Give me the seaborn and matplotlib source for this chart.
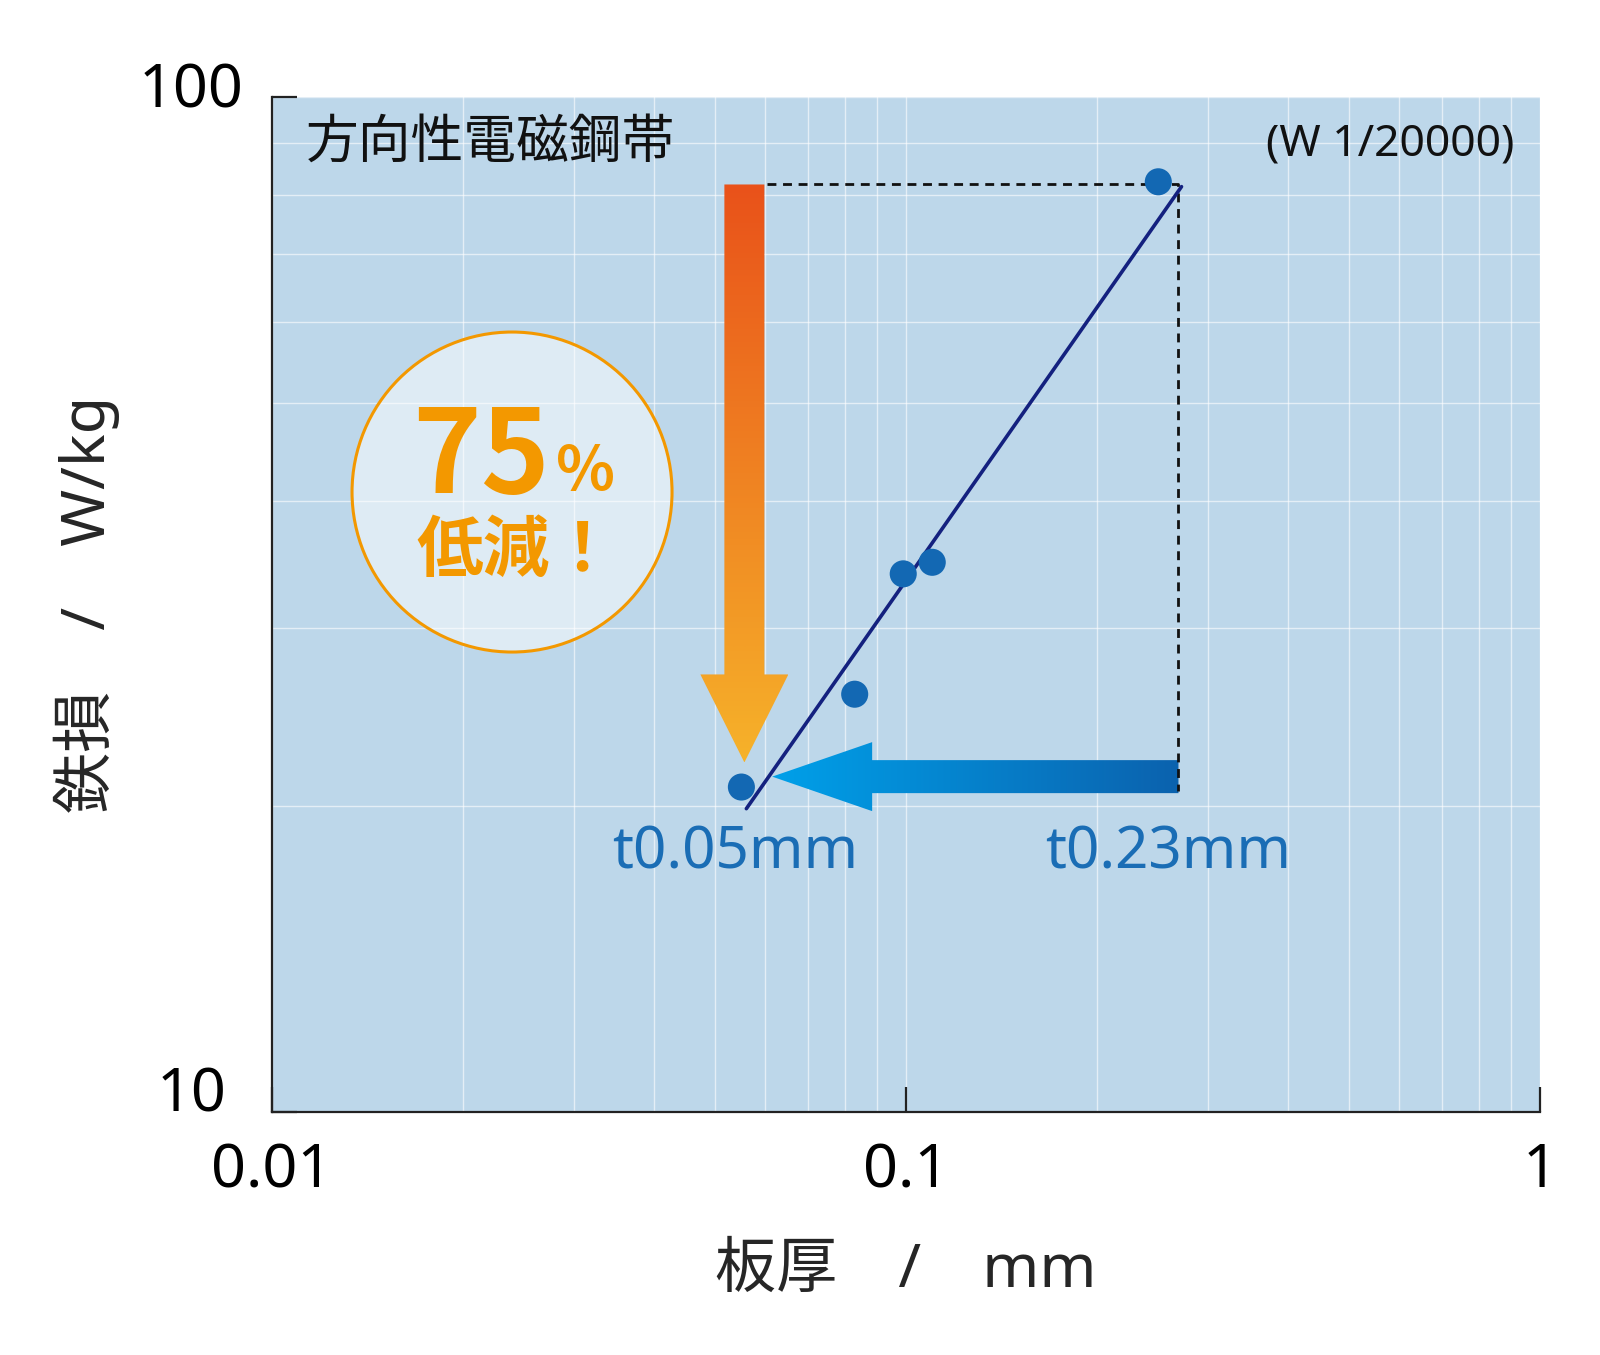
import numpy as np
import matplotlib
matplotlib.use('Agg')
import matplotlib.pyplot as plt
import matplotlib.ticker as mticker
import seaborn as sns
from matplotlib.patches import Polygon, Ellipse
from matplotlib.colors import LinearSegmentedColormap
from matplotlib.transforms import ScaledTranslation

# measured samples (thickness mm, iron loss W/kg)
thickness = [0.055, 0.083, 0.099, 0.11, 0.25]
iron_loss = [20.9, 25.8, 33.9, 34.8, 82.5]

# fitted trend line
fit_thickness = [0.056, 0.272]
fit_loss = [19.9, 81.6]

# dashed guide from the t0.23 level
ref_thickness = [0.0604, 0.269, 0.269]
ref_loss = [82.0, 82.0, 20.7]

# arrows: start -> end (data coords)
down_arrow = [(0.0556, 82.0), (0.0556, 22.1)]
left_arrow = [(0.269, 21.4), (0.0615, 21.4)]

x_ticks = [0.01, 0.1, 1]
x_tick_labels = ['0.01', '0.1', '1']
y_ticks = [10, 100]
y_tick_labels = ['10', '100']

sns.set_theme(style='white')
plt.rcParams['font.family'] = ['Noto Sans', 'Noto Sans CJK JP', 'DejaVu Sans']

fig = plt.figure(figsize=(16, 13.55), dpi=100)
ax = fig.add_axes([272 / 1600, 1 - 1112 / 1355, 1268 / 1600, 1015 / 1355])
ax.set_facecolor('#bdd7ea')
ax.set_xscale('log')
ax.set_yscale('log')
ax.set_xlim(0.01, 1)
ax.set_ylim(10, 100)

bb = ax.get_window_extent()
W, H = bb.width, bb.height


def gradient_arrow(ax, start, end, shaft, head_w, head_len, c0, c1, z):
    p0 = ax.transData.transform(start)
    p1 = ax.transData.transform(end)
    L = np.hypot(*(p1 - p0))
    d = (p1 - p0) / L
    n = np.array([-d[1], d[0]])
    base = p1 - d * head_len
    pts = [p0 + n * shaft / 2, base + n * shaft / 2, base + n * head_w / 2, p1,
           base - n * head_w / 2, base - n * shaft / 2, p0 - n * shaft / 2]
    verts = ax.transAxes.inverted().transform(np.array(pts))
    poly = Polygon(verts, closed=True, transform=ax.transAxes)
    (x0, y0), (x1, y1) = verts.min(0), verts.max(0)
    gx, gy = np.meshgrid(np.linspace(x0, x1, 200), np.linspace(y0, y1, 200))
    disp = ax.transAxes.transform(np.c_[gx.ravel(), gy.ravel()])
    t = np.clip(((disp - p0) @ d) / L, 0, 1).reshape(gx.shape)
    cmap = LinearSegmentedColormap.from_list('g', [c0, c1])
    im = ax.imshow(t, cmap=cmap, vmin=0, vmax=1, extent=[x0, x1, y0, y1],
                   origin='lower', transform=ax.transAxes, aspect='auto',
                   interpolation='bilinear', zorder=z)
    im.set_clip_path(poly)


# 75% circle
ax.add_patch(Ellipse((0.1893, 0.6108), 320 / W, 320 / H, transform=ax.transAxes,
                     fc=(1, 1, 1, 0.5), ec='#f39800', lw=2.2, zorder=2))

gradient_arrow(ax, *down_arrow, 40, 88, 88, '#e9521a', '#f6b22a', 3)
gradient_arrow(ax, *left_arrow, 33, 69, 100, '#0b62ae', '#00a0e9', 3)

ax.plot(ref_thickness, ref_loss, color='#111111', lw=2.0, ls=(0, (3.2, 2.4)), zorder=3.5)
sns.lineplot(x=fit_thickness, y=fit_loss, ax=ax, color='#14217f', lw=2.6, zorder=4)
sns.scatterplot(x=thickness, y=iron_loss, ax=ax, color='#1368b3', s=380,
                edgecolor='none', zorder=5)

ax.set_xlim(0.01, 1)
ax.set_ylim(10, 100)

# grid / ticks / spines
ax.set_axisbelow(True)
ax.grid(True, which='both', color='white', alpha=0.6, lw=1.0)
ax.set_xticks(x_ticks, x_tick_labels)
ax.set_yticks(y_ticks, y_tick_labels)
ax.xaxis.set_minor_formatter(mticker.NullFormatter())
ax.yaxis.set_minor_formatter(mticker.NullFormatter())
ax.tick_params(which='minor', length=0)
ax.tick_params(which='major', direction='in', length=18, width=1.6, color='#222222',
               labelsize=44, labelcolor='black', bottom=True, left=True)
ax.tick_params(axis='x', pad=21)
ax.tick_params(axis='y', pad=58)
for lbl, dy in zip(ax.get_yticklabels(), [16, 5]):
    lbl.set_ha('center')
    lbl.set_va('center')
    lbl.set_transform(lbl.get_transform() + ScaledTranslation(0, dy / 100, fig.dpi_scale_trans))
for s in ['top', 'right']:
    ax.spines[s].set_visible(False)
for s in ['left', 'bottom']:
    ax.spines[s].set_color('#222222')
    ax.spines[s].set_linewidth(1.6)

ax.set_xlabel('板厚　/　mm', fontsize=44, va='center')
ax.xaxis.set_label_coords(0.5, -0.157)
ax.set_ylabel('鉄損　/　W/kg', fontsize=44, va='center')
ax.yaxis.set_label_coords(-0.146, 0.5)

# annotations
ax.text(0.027, 0.9536, '方向性電磁鋼帯', fontsize=38, ha='left', va='center',
        transform=ax.transAxes, color='#111111')
ax.text(0.980, 0.953, '(W 1/20000)', fontsize=32, ha='right', va='center',
        transform=ax.transAxes, color='#111111')
orange = '#f39800'
ax.text(0.165, 0.643, '75', fontsize=84, fontweight='bold', color=orange, ha='center',
        va='center', transform=ax.transAxes, family=['Noto Sans CJK JP'], zorder=6)
ax.text(0.2475, 0.630, '%', fontsize=44, fontweight='bold', color=orange, ha='center',
        va='center', transform=ax.transAxes, family=['Noto Sans CJK JP'], zorder=6)
ax.text(0.193, 0.552, '低減！', fontsize=48, fontweight='bold', color=orange, ha='center',
        va='center', transform=ax.transAxes, family=['Noto Sans CJK JP'], zorder=6)
blue = '#1a6db5'
ax.text(0.365, 0.255, 't0.05mm', fontsize=42, color=blue, ha='center', va='center',
        transform=ax.transAxes)
ax.text(0.7066, 0.255, 't0.23mm', fontsize=42, color=blue, ha='center', va='center',
        transform=ax.transAxes)

fig.savefig('out.png', dpi=100)
